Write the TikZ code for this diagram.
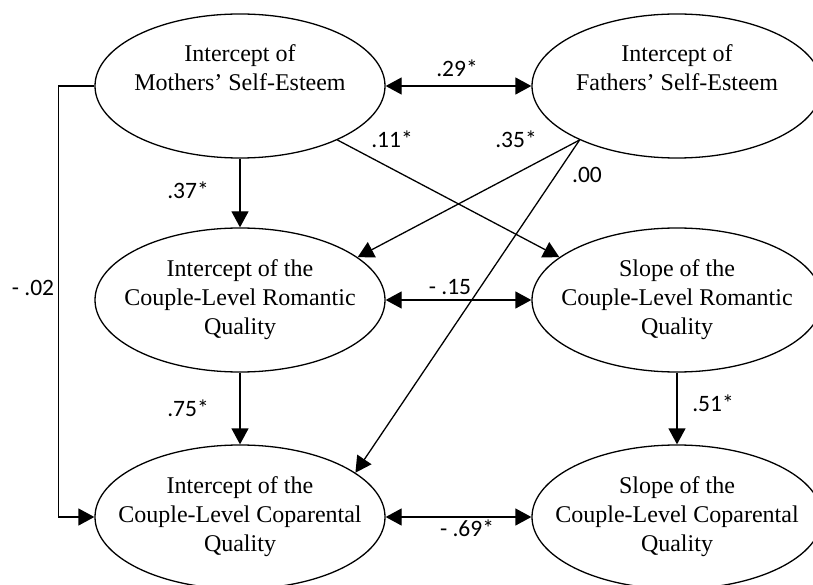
\documentclass[tikz,border=0pt]{standalone}
\usepackage{fontspec}
\setmainfont{Liberation Serif}
\newfontfamily\labelfont{Carlito}
\usetikzlibrary{shapes.geometric,arrows.meta}
\begin{document}
\begin{tikzpicture}[x=1pt,y=-1pt,
  latent/.style={ellipse,draw,line width=1.3pt,minimum width=290pt,minimum height=144pt,
    inner sep=0pt},
  caption/.style={align=center,inner sep=0pt,font=\fontsize{24}{29}\selectfont},
  path/.style={line width=1.3pt,-{Triangle[length=16pt,width=17pt]}},
  cov/.style={line width=1.3pt,{Triangle[length=16pt,width=17pt]}-{Triangle[length=16pt,width=17pt]}},
  coef/.style={font=\labelfont\fontsize{23.5}{27}\selectfont,inner sep=0pt}]
\useasboundingbox (0,0) rectangle (813,585);

% latent variables (outlines)
\node[latent] (M)  at (240,86)  {};
\node[latent] (F)  at (677,86)  {};
\node[latent] (IR) at (240,300) {};
\node[latent] (SR) at (677,300) {};
\node[latent] (IC) at (240,517) {};
\node[latent] (SC) at (677,517) {};

% latent variable names
\node[caption] (Mt)  at (M)  {Intercept of\\Mothers’ Self-Esteem\\\strut};
\node[caption] (Ft)  at (F)  {Intercept of\\Fathers’ Self-Esteem\\\strut};
\node[caption] (IRt) at (IR) {Intercept of the\\Couple-Level Romantic\\Quality};
\node[caption] (SRt) at (SR) {Slope of the\\Couple-Level Romantic\\Quality};
\node[caption] (ICt) at (IC) {Intercept of the\\Couple-Level Coparental\\Quality};
\node[caption] (SCt) at (SC) {Slope of the\\Couple-Level Coparental\\Quality};

% covariances
\draw[cov] (M.east) -- (F.west);
\draw[cov] (IR.east) -- (SR.west);
\draw[cov] (IC.east) -- (SC.west);

% regression paths
\draw[path] (M.south) -- (IR.north);
\draw[path] (IR.south) -- (IC.north);
\draw[path] (SR.south) -- (SC.north);
\draw[path] (M.-29.4) -- (SR.160.3);
\draw[path] (F.209) -- (IR.20.1);
\draw[path] (F.209) -- (IC.21.4);
\draw[path] (M.west) -- ++(-36,0) |- (IC.west);

% coefficients
\node[coef] (c29) at (457,68)  {.29*};
\node[coef] (c11) at (392,139) {.11*};
\node[coef] (c35) at (516,139) {.35*};
\node[coef] (c00) at (587,175) {.00};
\node[coef] (c37) at (188,190) {.37*};
\node[coef] (c02) at (33,288)  {- .02};
\node[coef] (c15) at (450,287) {- .15};
\node[coef] (c75) at (188,408) {.75*};
\node[coef] (c51) at (713,403) {.51*};
\node[coef] (c69) at (467,528) {- .69*};
\end{tikzpicture}
\end{document}
